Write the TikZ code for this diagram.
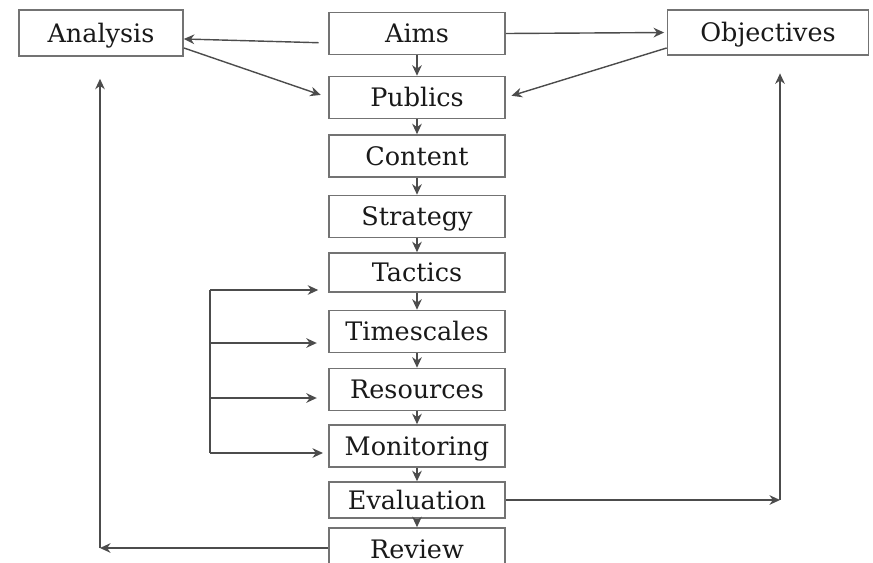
\documentclass[tikz,border=0pt]{standalone}
\usepackage{fontspec}
\setmainfont{DejaVu Serif}
\usetikzlibrary{arrows.meta}
\usetikzlibrary{calc}

\begin{document}
\begin{tikzpicture}[x=0.02cm,y=-0.02cm,>/.tip={Stealth[length=6pt,width=5.5pt]},
	stage/.style={draw=black!55,line width=0.9pt,minimum width=3.52cm,minimum height=0.84cm,inner sep=0pt,
		font=\fontsize{14.5}{17}\selectfont,text=black!90,text height=12pt,text depth=1.5pt},
	link/.style={->,draw=black!70,line width=0.8pt}]
	\useasboundingbox (0,0) rectangle (873,562);
	\clip (0,0) rectangle (873,562);
	% side boxes
	\draw (101,33) node (analysis) [stage,minimum width=3.28cm,minimum height=0.92cm] {Analysis};
	\draw (768,32.5) node (objectives) [stage,minimum width=4.02cm,minimum height=0.9cm] {Objectives};
	% main column
	\draw (417,33.5) node (aims) [stage] {Aims};
	\draw (417,97.5) node (publics) [stage] {Publics};
	\draw (417,156) node (content) [stage] {Content};
	\draw (417,216.5) node (strategy) [stage] {Strategy};
	\draw (417,272.5) node (tactics) [stage,minimum height=0.78cm] {Tactics};
	\draw (417,331.5) node (timescales) [stage] {Timescales};
	\draw (417,389.5) node (resources) [stage] {Resources};
	\draw (417,446) node (monitoring) [stage] {Monitoring};
	\draw (417,500) node (evaluation) [stage,minimum height=0.72cm] {Evaluation};
	\draw (417,549) node (review) [stage] {Review};
	% top links
	\path ([yshift=-5.4pt]aims.west) edge [link,shorten <=5.5pt] ([yshift=-3.4pt]analysis.east);
	\path ([yshift=-8.5pt]analysis.east) edge [link,shorten >=4.5pt] (publics.west);
	\path (aims.east) edge [link,shorten >=1.5pt] (objectives.west);
	\path ([yshift=-8.8pt]objectives.west) edge [link,shorten >=3.4pt] (publics.east);
	% down the column
	\foreach \a/\b in {aims/publics,publics/content,content/strategy,strategy/tactics,tactics/timescales,
		timescales/resources,resources/monitoring,monitoring/evaluation,evaluation/review}
		\path (\a) edge [link] (\b);
	% feedback into tactics .. monitoring
	\coordinate (fbtac) at (210,290);
	\coordinate (fbtim) at (210,343);
	\coordinate (fbres) at (210,398);
	\coordinate (fbmon) at (210,453);
	\draw[draw=black!70,line width=0.8pt] (fbtac) -- (fbmon);
	\path (fbtac) edge [link,shorten >=5.7pt] (fbtac -| tactics.west);
	\path (fbtim) edge [link,shorten >=6.5pt] (fbtim -| timescales.west);
	\path (fbres) edge [link,shorten >=6.5pt] (fbres -| resources.west);
	\path (fbmon) edge [link,shorten >=3pt] (fbmon -| monitoring.west);
	% evaluation back to objectives
	\coordinate (objturn) at (780,500);
	\path (evaluation) edge [link] (objturn);
	\path (objturn) edge [link,shorten >=10pt] (objturn |- objectives.south);
	% review back to analysis
	\coordinate (anaturn) at (100,548);
	\path (anaturn -| review.west) edge [link] (anaturn);
	\path (anaturn) edge [link,shorten >=12.5pt] (anaturn |- analysis.south);
\end{tikzpicture}
\end{document}
